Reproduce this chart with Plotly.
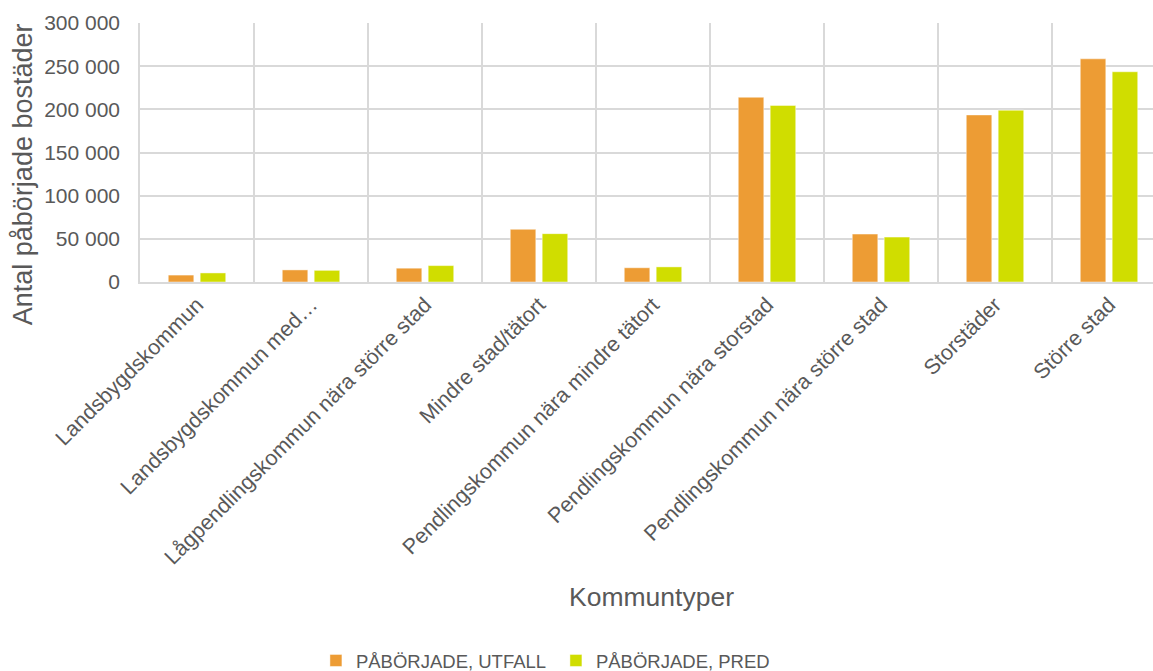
import plotly.graph_objects as go

# Kommuntyper och antal påbörjade bostäder
categories = [
    "Landsbygdskommun",
    "Landsbygdskommun med…",
    "Lågpendlingskommun nära större stad",
    "Mindre stad/tätort",
    "Pendlingskommun nära mindre tätort",
    "Pendlingskommun nära storstad",
    "Pendlingskommun nära större stad",
    "Storstäder",
    "Större stad",
]
utfall = [8000, 14000, 16000, 61000, 16500, 214000, 55500, 193500, 258500]
pred = [10500, 13500, 19000, 56000, 17500, 204500, 52000, 199000, 243500]

y_ticks = [0, 50000, 100000, 150000, 200000, 250000, 300000]

TEXT = "#595959"
GRID = "#D9D9D9"
FONT = "Liberation Sans, Arial, sans-serif"

fig = go.Figure()
fig.add_trace(go.Bar(
    x=categories, y=utfall, name="PÅBÖRJADE, UTFALL",
    marker=dict(color="#ED9C34", line=dict(color="rgba(255,255,255,0.45)", width=1)),
))
fig.add_trace(go.Bar(
    x=categories, y=pred, name="PÅBÖRJADE, PRED",
    marker=dict(color="#D0DD00", line=dict(color="rgba(255,255,255,0.45)", width=1)),
))

fig.update_layout(
    width=1153, height=671,
    margin=dict(l=140, r=0, t=23, b=389),
    paper_bgcolor="white", plot_bgcolor="white",
    barmode="group", bargap=0.44, bargroupgap=0.2,
    separators=", ",
    font=dict(family=FONT, color=TEXT, size=21),
    showlegend=True,
    legend=dict(
        orientation="h", xref="container", yref="container",
        x=0.274, xanchor="left", y=0.015, yanchor="middle",
        font=dict(size=18.5, color=TEXT), itemwidth=30,
        entrywidth=195, entrywidthmode="pixels",
    ),
    annotations=[
        dict(text="Antal påbörjade bostäder", xref="paper", yref="paper",
             x=-0.116, xanchor="center", y=0.418, yanchor="middle",
             textangle=-90, showarrow=False, font=dict(size=27, color=TEXT)),
        dict(text="Kommuntyper", xref="paper", yref="paper",
             x=0.5045, xanchor="center", y=-1.215, yanchor="middle",
             showarrow=False, font=dict(size=26.5, color=TEXT)),
    ],
)

fig.update_xaxes(
    type="category", range=[-0.5, 8.386], tickson="boundaries",
    showgrid=True, gridcolor=GRID, gridwidth=1.5,
    showline=True, linecolor=GRID, linewidth=1.5,
    ticks="", tickangle=-45, tickfont=dict(size=21.5, color=TEXT),
)
fig.update_yaxes(
    range=[0, 300000], tickvals=y_ticks, tickformat=",d",
    showgrid=True, gridcolor=GRID, gridwidth=1.5,
    showline=True, linecolor=GRID, linewidth=1.5,
    zeroline=False, ticks="", ticklabelstandoff=14,
    tickfont=dict(size=21, color=TEXT),
)

fig.write_html("out.html")
